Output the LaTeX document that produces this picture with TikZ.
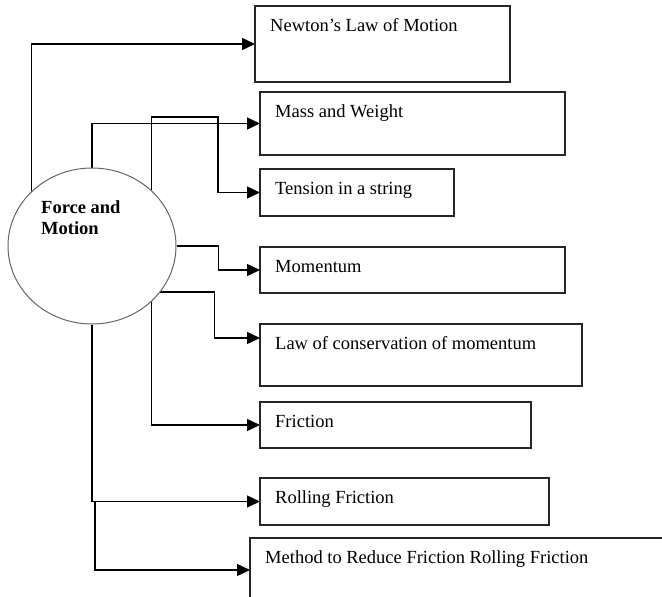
\documentclass[tikz,border=0pt]{standalone}
\usepackage{fontspec}
\setmainfont{Liberation Serif}
\usetikzlibrary{arrows.meta,shapes.geometric,calc,backgrounds}
\begin{document}
\begin{tikzpicture}[x=1pt,y=-1pt,
  box/.style={draw=black!85, line width=1.4pt, rectangle, inner sep=0pt, outer sep=0pt, anchor=north west},
  txt/.style={anchor=base west, inner sep=0pt, font=\fontsize{18.5}{22}\selectfont},
  conn/.style={line width=1.4pt, -{Triangle[length=13pt,width=12pt]}},
  ]
\useasboundingbox (0,0) rectangle (662,597);
% central circle
\node[draw=black!60, line width=1pt, fill=white, ellipse, minimum width=168pt, minimum height=156pt, inner sep=0pt] (fm) at (92,246) {};
\node[anchor=north west, inner sep=0pt, align=left, font=\bfseries\fontsize{18.5}{21}\selectfont] (fmt) at (41,200) {Force and\\Motion};
% boxes
\node[box, minimum width=255pt, minimum height=76pt] (newton) at (255,6) {};
\node[box, minimum width=305pt, minimum height=63pt] (mass) at (260,92) {};
\node[box, minimum width=194pt, minimum height=47pt] (tension) at (260,169) {};
\node[box, minimum width=305pt, minimum height=46pt] (mom) at (260,247) {};
\node[box, minimum width=322pt, minimum height=62pt] (law) at (260,324) {};
\node[box, minimum width=271pt, minimum height=46pt] (fric) at (260,402) {};
\node[box, minimum width=289pt, minimum height=47pt] (roll) at (260,478) {};
\node[box, minimum width=440pt, minimum height=64pt] (meth) at (250,538) {};
% texts
\node[txt] (t1) at ($(newton.north west)+(15,25)$) {Newton's Law of Motion};
\node[txt] (t2) at ($(mass.north west)+(15,25)$) {Mass and Weight};
\node[txt] (t3) at ($(tension.north west)+(15,25)$) {Tension in a string};
\node[txt] (t4) at ($(mom.north west)+(15,25)$) {Momentum};
\node[txt] (t5) at ($(law.north west)+(15,25)$) {Law of conservation of momentum};
\node[txt] (t6) at ($(fric.north west)+(15,25)$) {Friction};
\node[txt] (t7) at ($(roll.north west)+(15,25)$) {Rolling Friction};
\node[txt] (t8) at ($(meth.north west)+(15,25)$) {Method to Reduce Friction Rolling Friction};
% connectors
\coordinate (k1) at (218,117);
\begin{scope}[on background layer]
\draw[conn] (fm.138.5) |- (newton.west);
\draw[conn] (fm.north) |- (mass.west);
\draw[conn] (fm.43.25) |- (k1) |- (tension.west);
\draw[conn] (fm.east) -- ++(42,0) |- (mom.west);
\draw[conn] (fm.-34.6) -- ++(54,0) |- ([yshift=17pt]law.west);
\draw[conn] (fm.-43.25) |- (fric.west);
\draw[conn] (fm.south) |- (roll.west);
\draw[conn] (fm.south |- roll.west) -- ++(3,0) |- (meth.west);
\end{scope}
\end{tikzpicture}
\end{document}
